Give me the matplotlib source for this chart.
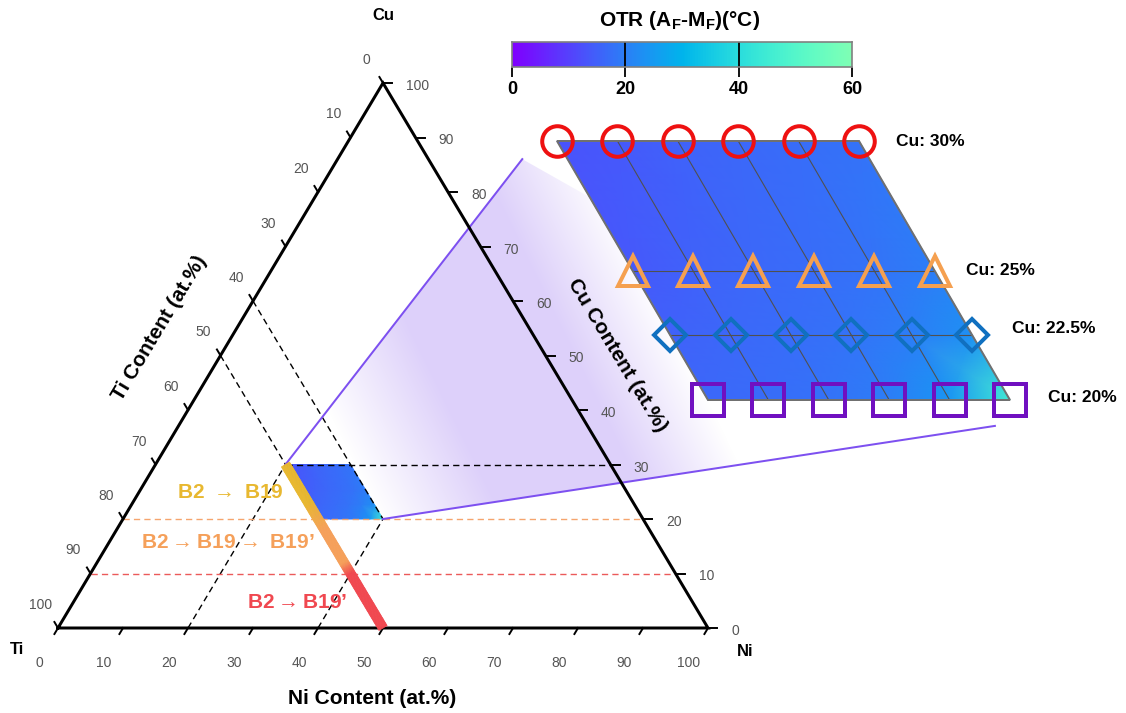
import numpy as np
import matplotlib.pyplot as plt
from matplotlib.collections import PolyCollection
from matplotlib.colors import LinearSegmentedColormap
from matplotlib.patches import Polygon

plt.rcParams['font.family'] = ['Liberation Sans', 'DejaVu Sans']
plt.rcParams['mathtext.fontset'] = 'custom'
plt.rcParams['mathtext.rm'] = 'Liberation Sans'
plt.rcParams['mathtext.bf'] = 'Liberation Sans:bold'

# measured compositions (at.%) and OTR (Af - Mf, degC)
ti_cols = [50, 48, 46, 44, 42, 40]
cu_rows = [30, 25, 22.5, 20]
otr = np.array([
    [13, 14, 15, 16, 17, 18],
    [14, 15, 16, 17, 18, 20],
    [15, 16, 17, 18, 20, 23],
    [16, 17, 18, 20, 24, 45],
])
row_labels = ['Cu: 30%', 'Cu: 25%', 'Cu: 22.5%', 'Cu: 20%']
row_markers = ['o', '^', 'D', 's']
row_sizes = [22, 22, 16.5, 23]
row_colors = ['#ee1111', '#f5a050', '#1070c0', '#7010c0']

# transformation sequence boundaries along Ti = 50 (Cu at.%)
phase_cu = [30, 20, 10, 0]
phase_colors = ['#e8b830', '#f5a05a', '#f04850']
phase_labels = [r'B2 $\rightarrow$ B19', r'B2$\rightarrow$B19$\rightarrow$ B19’',
                r'B2$\rightarrow$B19’']

axis_ticks = np.arange(0, 101, 10)
otr_ticks = [0, 20, 40, 60]

cmap = LinearSegmentedColormap.from_list('otr', plt.cm.rainbow(np.linspace(0, 0.5, 256)))

fig = plt.figure(figsize=(11.26, 7.13), dpi=100)
ax = fig.add_axes([0, 0, 1, 1])
PX = 0.72  # points per pixel


# ternary -> pixel
def tern(ni, cu):
    ni = np.asarray(ni, float)
    cu = np.asarray(cu, float)
    return 58 + (ni + cu / 2) * 6.5, 628 - cu * 5.45


# enlarged panel -> pixel (origin at Ni 20 / Cu 30)
def panel(ni, cu):
    ni = np.asarray(ni, float)
    cu = np.asarray(cu, float)
    return 557 + (ni + cu / 2 - 35) * 30.2, 141 - (cu - 30) * 25.9


TI, CU = np.meshgrid(ti_cols, cu_rows)
NI = 100 - TI - CU

# zoom connector: shaded band between the small and enlarged regions
a0 = tern(20, 30)
b0 = tern(40, 20)
a1 = panel(19.2, 29.3)
b1 = panel(40, 19)
band = Polygon([a0, a1, b1, b0], closed=True, facecolor='none', edgecolor='none')
ax.add_patch(band)
gx, gy = np.meshgrid(np.arange(250, 1010), np.arange(140, 530))
c0 = np.array(tern(30, 25))
c1 = np.array(panel(30, 25))
d = c1 - c0
t = ((gx - c0[0]) * d[0] + (gy - c0[1]) * d[1]) / (d @ d)
alpha = np.clip((t - 0.06) / 0.22, 0, 1) * np.clip((0.75 - t) / 0.2, 0, 1)
img = np.zeros(gx.shape + (4,))
img[..., :3] = np.array([221, 208, 250]) / 255
img[..., 3] = alpha
im = ax.imshow(img, extent=(250, 1010, 530, 140), origin='upper', zorder=1)
im.set_clip_path(band)

# frame of the ternary
ax.plot([58, 708, 383, 58], [628, 628, 83, 628], color='k', lw=3 * PX, zorder=4,
        solid_joinstyle='miter')

for v in axis_ticks:
    # Ni (bottom)
    x, y = tern(v, 0)
    ax.plot([x, x - 0.512 * 7], [y, y + 0.859 * 7], color='k', lw=1.4, zorder=4)
    ax.text(x - 19, y + 35, f'{v}', ha='center', va='center', fontsize=10, color='#555555')
    # Cu (right)
    x, y = tern(100 - v, v)
    ax.plot([x, x + 9], [y, y], color='k', lw=1.4, zorder=4)
    ax.text(x + 23, y + 3, f'{v}', ha='left', va='center', fontsize=10, color='#555555')
    # Ti (left)
    x, y = tern(0, 100 - v)
    ax.plot([x, x - 0.512 * 7], [y, y - 0.859 * 7], color='k', lw=1.4, zorder=4)
    ax.text(x - 17, y - 23, f'{v}', ha='center', va='center', fontsize=10, color='#555555')

# guide lines
dash = (0, (4.5, 3))
x, y = tern([20, 70], [30, 30])
ax.plot(x, y, color='k', lw=1, ls=dash, zorder=3)
x, y = tern([20, 20], [0, 30])
ax.plot(x, y, color='k', lw=1, ls=dash, zorder=3)
x, y = tern([40, 40], [0, 20])
ax.plot(x, y, color='k', lw=1, ls=dash, zorder=3)
x, y = tern([0, 20], [50, 30])
ax.plot(x, y, color='k', lw=1, ls=dash, zorder=3)
x, y = tern([0, 40], [60, 20])
ax.plot(x, y, color='k', lw=1, ls=dash, zorder=3.2)
for cu, col in zip(phase_cu[1:3], ['#f5a56e', '#eb5a5a']):
    x, y = tern([0, 100 - cu], [cu, cu])
    ax.plot(x, y, color=col, lw=1, ls=dash, zorder=3)

# OTR map inside the ternary
sx, sy = tern(NI, CU)
ax.pcolormesh(sx, sy, otr, shading='gouraud', cmap=cmap, vmin=0, vmax=60, zorder=2.5)

# phase line along Ti = 50, drawn as a strip of quads
cu_line = np.linspace(phase_cu[0], phase_cu[-1], 121)
lx, ly = tern(50 - cu_line, cu_line)
dx, dy = lx[-1] - lx[0], ly[-1] - ly[0]
nrm = np.hypot(dx, dy)
hx, hy = -dy / nrm * 4.7, dx / nrm * 4.7
quads = [[(lx[k] - hx, ly[k] - hy), (lx[k] + hx, ly[k] + hy),
          (lx[k + 1] + hx, ly[k + 1] + hy), (lx[k + 1] - hx, ly[k + 1] - hy)]
         for k in range(len(cu_line) - 1)]
line_cmap = LinearSegmentedColormap.from_list(
    'phase', [(0, phase_colors[2]), (0.33, phase_colors[2]), (0.4, phase_colors[1]),
              (0.6, phase_colors[1]), (0.77, phase_colors[0]), (1, phase_colors[0])])
seg_c = line_cmap((cu_line[:-1] + cu_line[1:]) / 2 / phase_cu[0])
pc = PolyCollection(quads, facecolors=seg_c, edgecolors=seg_c, linewidths=0.6, zorder=4.5)
ax.add_collection(pc)

ax.text(230, 493, phase_labels[0], color=phase_colors[0], fontsize=15, fontweight='bold',
        ha='center', va='center', zorder=6)
ax.text(228, 543, phase_labels[1], color=phase_colors[1], fontsize=15, fontweight='bold',
        ha='center', va='center', zorder=6)
ax.text(297, 603, phase_labels[2], color=phase_colors[2], fontsize=15, fontweight='bold',
        ha='center', va='center', zorder=6)

# connector lines
ax.plot([a0[0], a1[0]], [a0[1], a1[1]], color='#7d50f0', lw=2 * PX, zorder=3.5)
ax.plot([b0[0], b1[0]], [b0[1], b1[1]], color='#7d50f0', lw=2 * PX, zorder=3.5)

# enlarged panel
bx, by = panel(NI, CU)
ax.pcolormesh(bx, by, otr, shading='gouraud', cmap=cmap, vmin=0, vmax=60, zorder=5)
for j in range(1, len(ti_cols) - 1):
    ax.plot(bx[:, j], by[:, j], color='#505050', lw=1.1 * PX, zorder=5.1)
for i in range(1, len(cu_rows) - 1):
    ax.plot(bx[i], by[i], color='#505050', lw=1.1 * PX, zorder=5.1)
corners = [(bx[0, 0], by[0, 0]), (bx[0, -1], by[0, -1]), (bx[-1, -1], by[-1, -1]),
           (bx[-1, 0], by[-1, 0])]
ax.add_patch(Polygon(corners, closed=True, fill=False, edgecolor='#707070',
                     lw=2 * PX, zorder=5.2))

label_dx = [37, 31, 40, 38]
label_dy = [0, 0, -7, -3]
for i in range(len(cu_rows)):
    ax.plot(bx[i], by[i], ls='none', marker=row_markers[i], ms=row_sizes[i],
            mfc='none', mec=row_colors[i], mew=4 * PX, zorder=6)
    ax.text(bx[i, -1] + label_dx[i], by[i, -1] + label_dy[i], row_labels[i], fontsize=12.5,
            fontweight='bold', ha='left', va='center', zorder=6)

# corner and axis labels
ax.text(383, 15, 'Cu', fontsize=12, fontweight='bold', ha='center', va='center')
ax.text(17, 650, 'Ti', fontsize=12, fontweight='bold', ha='center', va='center')
ax.text(745, 652, 'Ni', fontsize=12, fontweight='bold', ha='center', va='center')
ax.text(372, 698, 'Ni Content (at.%)', fontsize=15, fontweight='bold', ha='center', va='center')
ax.text(160, 328, 'Ti Content (at.%)', fontsize=15, fontweight='bold', ha='center',
        va='center', rotation=59, rotation_mode='anchor')
ax.text(617, 355, 'Cu Content (at.%)', fontsize=15, fontweight='bold', ha='center',
        va='center', rotation=-59, rotation_mode='anchor', zorder=6)

ax.set_xlim(0, 1126)
ax.set_ylim(713, 0)
ax.set_aspect('auto')
ax.axis('off')

# colour bar
cax = fig.add_axes([512 / 1126, 1 - 67 / 713, 340 / 1126, 25 / 713])
cax.imshow(np.linspace(0, 60, 256)[None, :], aspect='auto', cmap=cmap,
           extent=(0, 60, 0, 1), vmin=0, vmax=60)
cax.vlines(otr_ticks[1:-1], 0, 1, color='k', lw=1.3)
cax.set_xticks(otr_ticks)
cax.set_xticklabels([str(v) for v in otr_ticks], fontsize=13, fontweight='bold')
cax.set_yticks([])
cax.tick_params(axis='x', length=7, width=1.3, pad=3)
for s in cax.spines.values():
    s.set_color('#808080')
    s.set_linewidth(1.2)
fig.text(680 / 1126, 1 - 20 / 713, r'OTR (A$_\mathbf{F}$-M$_\mathbf{F}$)(°C)',
         fontsize=15, fontweight='bold', ha='center', va='center')

fig.savefig('out.png', dpi=100)
